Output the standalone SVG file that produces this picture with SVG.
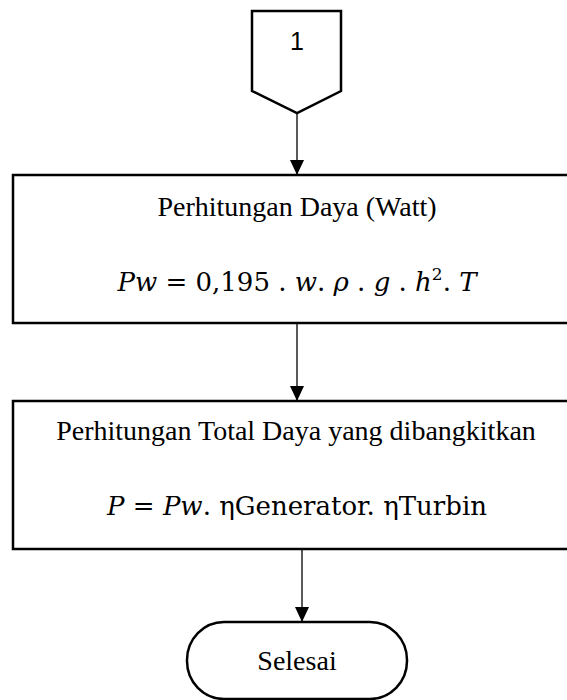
<svg xmlns="http://www.w3.org/2000/svg" width="567" height="700" viewBox="0 0 567 700">
<style>
.shape{fill:#fff;stroke:#000;stroke-width:2.5}
.conn{stroke:#000;stroke-width:1.3;fill:none}
.t{font-family:"Liberation Serif","Times New Roman",serif;font-size:28px;fill:#000;text-anchor:middle}
.m{font-family:"DejaVu Serif","Liberation Serif",serif;font-size:26px;fill:#000;text-anchor:middle}
.i{font-style:italic}
.n{font-family:"Liberation Sans","Open Sans",sans-serif;font-size:25px;fill:#000;text-anchor:middle}
</style>
<defs>
<marker id="ah" markerWidth="15" markerHeight="14" refX="15" refY="7" orient="auto" markerUnits="userSpaceOnUse">
<path d="M0,0 L15,7 L0,14 Z" fill="#000"/>
</marker>
</defs>
<rect width="567" height="700" fill="#fff"/>
<g id="connectors">
<line class="conn" x1="297" y1="113" x2="297" y2="175" marker-end="url(#ah)"/>
<line class="conn" x1="297" y1="323" x2="297" y2="401" marker-end="url(#ah)"/>
<line class="conn" x1="302" y1="549" x2="302" y2="622" marker-end="url(#ah)"/>
</g>
<g id="node-connector">
<polygon class="shape" points="252,11 341,11 341,91 297,113 252,91"/>
<text class="n" x="297" y="50">1</text>
</g>
<g id="node-daya">
<rect class="shape" x="13" y="175" width="580" height="148"/>
<text class="t" x="297" y="216">Perhitungan Daya (Watt)</text>
<text class="m" x="297" y="291"><tspan class="i">Pw</tspan> = 0,195 . <tspan class="i">w</tspan>. <tspan class="i">ρ</tspan> . <tspan class="i">g</tspan> . <tspan class="i">h</tspan><tspan font-size="17" dy="-11">2</tspan><tspan dy="11">. </tspan><tspan class="i">T</tspan></text>
</g>
<g id="node-total">
<rect class="shape" x="13" y="401" width="580" height="148"/>
<text class="t" x="296" y="440">Perhitungan Total Daya yang dibangkitkan</text>
<text class="m" x="297" y="515"><tspan class="i">P</tspan> = <tspan class="i">Pw</tspan>. ηGenerator. ηTurbin</text>
</g>
<g id="node-selesai">
<rect class="shape" x="187" y="622" width="220" height="77" rx="37" ry="38"/>
<text class="t" x="297" y="670">Selesai</text>
</g>
</svg>
